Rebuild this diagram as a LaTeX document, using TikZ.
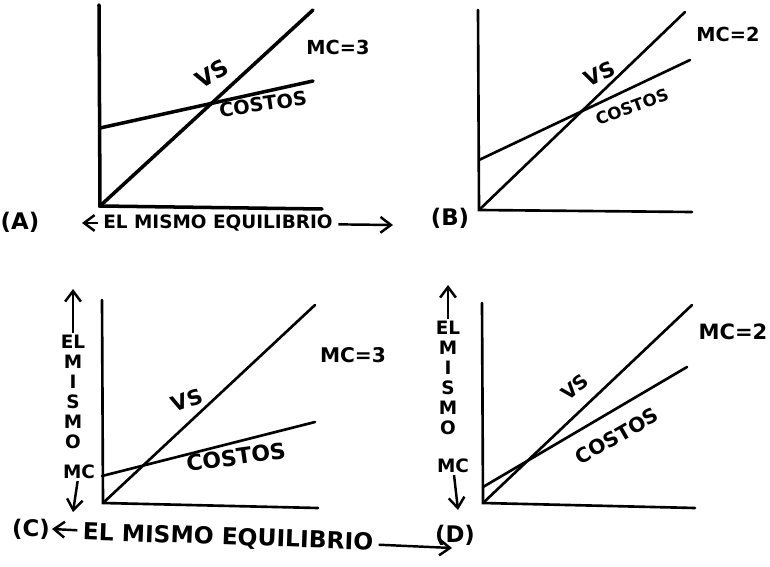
\documentclass[tikz,border=0pt]{standalone}
\usepackage{fontspec}
\setmainfont{DejaVu Sans}
\usetikzlibrary{arrows.meta,positioning}

\begin{document}
\begin{tikzpicture}[x=0.02cm, y=-0.02cm,
      axis/.style={line width=1.5pt, line cap=round},
      curve/.style={line width=1.5pt, line cap=round},
      mc/.style={font=\fontsize{11}{13}\selectfont\bfseries, inner sep=0pt},
      tag/.style={font=\fontsize{13}{15}\selectfont\bfseries, inner sep=0pt},
      word/.style={font=\fontsize{11}{12}\selectfont\bfseries, inner sep=0pt},
      eq/.style={font=\fontsize{10.5}{12}\selectfont\bfseries, inner sep=3pt},
      stack/.style={font=\fontsize{10.5}{11.4}\selectfont\bfseries, align=center, inner sep=1pt},
      line/.style={line width=1.4pt, -{Straight Barb[length=6pt,width=9pt]}}]

      \useasboundingbox (0,0) rectangle (770,567);

      % Panel A
      \coordinate (oA) at (100,206);
      \coordinate (yA) at (99,5);
      \coordinate (xA) at (322,209);
      \coordinate (cA0) at (100,128);
      \coordinate (cA1) at (313,81);
      \coordinate (vA1) at (313,10);
      \draw [axis, line width=2pt] (yA) -- (oA) -- (xA);
      \draw [curve, line width=2pt] (oA) -- (vA1);
      \draw [curve, line width=2pt] (cA0) -- (cA1);
      \node [mc] (mcA) at (338,47) {MC=3};
      \node [word, font=\fontsize{13}{14}\selectfont\bfseries, rotate=30] (vsA) at (212,74) {VS};
      \node [word, rotate=8] (coA) at (263,104) {COSTOS};
      \node [tag] (tagA) at (20,222) {(A)};

      % Panel B
      \coordinate (oB) at (479,210);
      \coordinate (yB) at (478,10);
      \coordinate (xB) at (692,212);
      \coordinate (cB0) at (479,160);
      \coordinate (cB1) at (690,60);
      \coordinate (vB1) at (685,12);
      \draw [axis] (yB) -- (oB) -- (xB);
      \draw [curve] (oB) -- (vB1);
      \draw [curve] (cB0) -- (cB1);
      \node [mc] (mcB) at (728,34) {MC=2};
      \node [word, font=\fontsize{12}{14}\selectfont\bfseries, rotate=25] (vsB) at (600,74) {VS};
      \node [word, font=\fontsize{9.5}{11}\selectfont\bfseries, rotate=20] (coB) at (632,107) {COSTOS};
      \node [tag] (tagB) at (450,218) {(B)};

      % Panel C
      \coordinate (oC) at (103,503);
      \coordinate (yC) at (102,300);
      \coordinate (xC) at (318,508);
      \coordinate (cC0) at (102,476);
      \coordinate (cC1) at (315,422);
      \coordinate (vC1) at (315,305);
      \draw [axis] (yC) -- (oC) -- (xC);
      \draw [curve] (oC) -- (vC1);
      \draw [curve] (cC0) -- (cC1);
      \node [mc, font=\fontsize{11.5}{13}\selectfont\bfseries] (mcC) at (353,355) {MC=3};
      \node [word, font=\fontsize{12}{14}\selectfont\bfseries, rotate=20] (vsC) at (187,400) {VS};
      \node [word, font=\fontsize{12.5}{14}\selectfont\bfseries, rotate=8] (coC) at (236,457) {COSTOS};
      \node [tag] (tagC) at (31,529) {(C)};

      % Panel D
      \coordinate (oD) at (483,503);
      \coordinate (yD) at (482,303);
      \coordinate (xD) at (695,508);
      \coordinate (cD0) at (483,487);
      \coordinate (cD1) at (687,367);
      \coordinate (vD1) at (692,305);
      \draw [axis] (yD) -- (oD) -- (xD);
      \draw [curve] (oD) -- (vD1);
      \draw [curve] (cD0) -- (cD1);
      \node [mc, font=\fontsize{12}{14}\selectfont\bfseries] (mcD) at (733,332) {MC=2};
      \node [word, rotate=40] (vsD) at (575,387) {VS};
      \node [word, font=\fontsize{11.5}{13}\selectfont\bfseries, rotate=30] (coD) at (617,436) {COSTOS};
      \node [tag] (tagD) at (455,535) {(D)};

      % Equilibrium arrows
      \node [eq] (eqA) at (218,223) {EL MISMO EQUILIBRIO};
      \coordinate (eqAl) at (82,223);
      \coordinate (eqAr) at (393,225);
      \draw [line] (eqA) -- (eqAl);
      \draw [line] (eqA) -- (eqAr);

      \node [eq, font=\fontsize{13.3}{15}\selectfont\bfseries, rotate=-2] (eqC) at (228,538) {EL MISMO EQUILIBRIO};
      \coordinate (eqCl) at (52,529);
      \coordinate (eqCr) at (452,548);
      \draw [line] (eqC) -- (eqCl);
      \draw [line] (eqC) -- (eqCr);

      % Vertical labels
      \node [stack] (stC) at (73,392) {EL\\M\\I\\S\\M\\O};
      \node [stack] (mcCv) at (79,472) {MC};
      \coordinate (upC) at (73,289);
      \coordinate (dnC) at (73,512);
      \draw [line] (stC) -- (upC);
      \draw [line] (mcCv) -- (dnC);

      \node [stack] (stD) at (448,378) {EL\\M\\I\\S\\M\\O};
      \node [stack] (mcDv) at (453,466) {MC};
      \coordinate (upD) at (448,285);
      \coordinate (dnD) at (458,510);
      \draw [line] (stD) -- (upD);
      \draw [line] (mcDv) -- (dnD);

    \end{tikzpicture}
\end{document}
